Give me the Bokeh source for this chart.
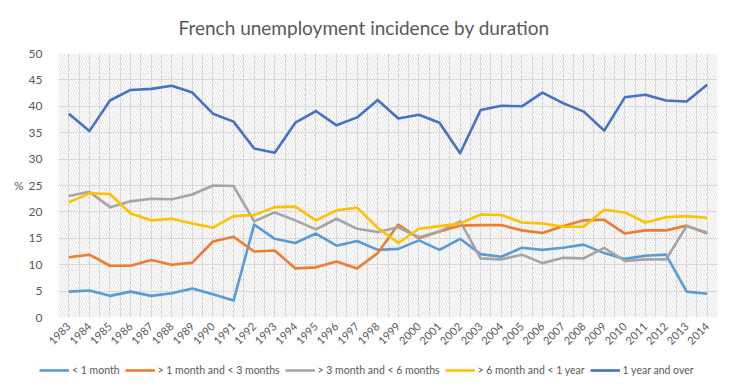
from math import pi
from bokeh.plotting import figure
from bokeh.layouts import column
from bokeh.models import (Legend, LegendItem, BoxAnnotation, FixedTicker,
                          SingleIntervalTicker, Range1d)
from bokeh.embed import file_html
from bokeh.resources import INLINE

years = list(range(1983, 2015))
less_1m = [4.9, 5.1, 4.1, 4.9, 4.1, 4.6, 5.5, 4.4, 3.2, 17.6, 14.9, 14.1, 15.9, 13.6, 14.5, 12.8,
           13.0, 14.6, 12.8, 14.9, 12.0, 11.5, 13.2, 12.8, 13.2, 13.8, 12.2, 11.1, 11.7, 11.9, 4.9, 4.5]
m1_3 = [11.4, 11.9, 9.8, 9.8, 10.9, 10.0, 10.4, 14.4, 15.3, 12.5, 12.7, 9.3, 9.5, 10.6, 9.3, 12.2,
        17.6, 15.0, 16.3, 17.4, 17.5, 17.5, 16.5, 16.0, 17.3, 18.4, 18.5, 15.9, 16.5, 16.5, 17.4, 15.9]
m3_6 = [23.0, 23.8, 20.9, 22.0, 22.5, 22.4, 23.3, 25.0, 24.9, 18.2, 19.9, 18.4, 16.7, 18.7, 16.8, 16.2,
        17.1, 15.2, 16.3, 18.2, 11.2, 11.0, 11.9, 10.3, 11.3, 11.2, 13.2, 10.7, 11.0, 11.0, 17.3, 16.1]
m6_12 = [21.8, 23.5, 23.4, 19.7, 18.4, 18.7, 17.8, 17.0, 19.2, 19.4, 20.9, 21.0, 18.4, 20.3, 20.8, 17.0,
         14.1, 16.8, 17.3, 17.8, 19.5, 19.4, 18.0, 17.8, 17.2, 17.2, 20.4, 19.9, 18.0, 19.0, 19.2, 18.9]
y1_plus = [38.6, 35.3, 41.1, 43.1, 43.3, 43.9, 42.6, 38.6, 37.1, 32.0, 31.2, 36.9, 39.1, 36.4, 37.9, 41.2,
           37.7, 38.4, 36.9, 31.1, 39.3, 40.1, 40.0, 42.6, 40.6, 39.0, 35.4, 41.7, 42.2, 41.1, 40.9, 44.1]

series_names = ["< 1 month", "> 1 month and < 3 months", "> 3 month and < 6 months",
                "> 6 month and < 1 year", "1 year and over"]
series_values = [less_1m, m1_3, m3_6, m6_12, y1_plus]
colors = ["#5B9BD5", "#ED7D31", "#A5A5A5", "#FFC000", "#4472C4"]

FONT = "Lato"
TXT = "#595959"

p = figure(width=719, height=360, output_backend="svg", toolbar_location=None,
           x_range=Range1d(years[0] - 0.5, years[-1] + 0.5), y_range=Range1d(0, 50),
           min_border_left=58, min_border_right=2, min_border_top=53, min_border_bottom=43)
p.outline_line_color = None
p.background_fill_color = "white"

p.title.text = "French unemployment incidence by duration"
p.title.align = "left"
p.title.offset = 120
p.title.text_font = FONT
p.title.text_font_size = "19px"
p.title.text_font_style = "normal"
p.title.text_color = TXT
p.title.vertical_align = "top"
p.title.standoff = 26

# hatched background of the plot area
p.add_layout(BoxAnnotation(fill_alpha=0, line_color=None, hatch_pattern="\\",
                           hatch_color="#d9d9d9", hatch_alpha=0.8, hatch_scale=5,
                           hatch_weight=1, level="underlay"))

# grid
p.ygrid.ticker = SingleIntervalTicker(interval=5)
p.ygrid.grid_line_color = "#d9d9d9"
p.xgrid.ticker = FixedTicker(ticks=[years[0] - 0.5 + 0.5 * k for k in range(2 * len(years) + 1)])
p.xgrid.grid_line_color = "#d9d9d9"

# axes
p.yaxis.ticker = SingleIntervalTicker(interval=5)
p.xaxis.ticker = FixedTicker(ticks=years)
p.xaxis.major_label_orientation = pi / 4
for ax in (p.xaxis[0], p.yaxis[0]):
    ax.axis_line_color = None
    ax.major_tick_line_color = None
    ax.minor_tick_line_color = None
    ax.major_tick_out = 0
    ax.major_tick_in = 0
    ax.major_label_text_font = FONT
    ax.major_label_text_color = TXT
p.yaxis.major_label_text_font_size = "12px"
p.yaxis.major_label_standoff = 12
p.xaxis.major_label_text_font_size = "11px"
p.xaxis.major_label_standoff = 7
p.yaxis.axis_label = "%"
p.yaxis.axis_label_orientation = "horizontal"
p.yaxis.axis_label_text_font = FONT
p.yaxis.axis_label_text_font_style = "normal"
p.yaxis.axis_label_text_font_size = "12px"
p.yaxis.axis_label_text_color = TXT
p.yaxis.axis_label_standoff = 2

for name, vals, col in zip(series_names, series_values, colors):
    p.line(years, vals, line_color=col, line_width=2.6, line_join="round")

# legend strip below the chart (its lines fall outside its own ranges, only the legend shows)
lg = figure(frame_width=719, frame_height=16, output_backend="svg", toolbar_location=None,
            x_axis_location=None, y_axis_location=None,
            x_range=Range1d(0, 1), y_range=Range1d(0, 1),
            min_border_left=0, min_border_right=0, min_border_top=0, min_border_bottom=0)
lg.outline_line_color = None
lg.xgrid.visible = False
lg.ygrid.visible = False
items = []
for name, vals, col in zip(series_names, series_values, colors):
    r = lg.line(years, vals, line_color=col, line_width=2.6)
    items.append(LegendItem(label=name, renderers=[r]))
legend = Legend(items=items, orientation="horizontal", location=(39, 0),
                label_text_font=FONT, label_text_font_size="10.5px", label_text_color=TXT,
                glyph_width=30, glyph_height=12, label_standoff=3, spacing=5,
                padding=2, margin=0, border_line_color=None, background_fill_alpha=0)
lg.add_layout(legend)

open("out.html", "w").write(file_html(column(p, lg), INLINE))
